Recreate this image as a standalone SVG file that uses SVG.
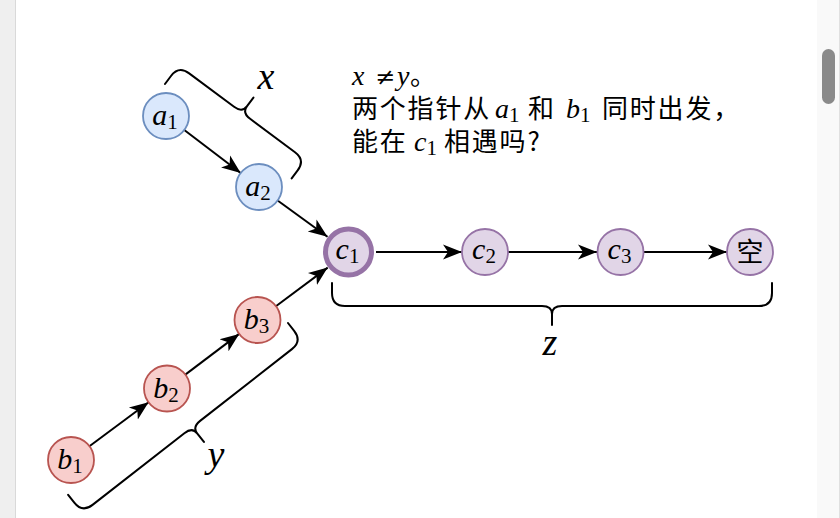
<svg xmlns="http://www.w3.org/2000/svg" width="840" height="518" viewBox="0 0 840 518">
<style>
.bg{fill:#ffffff}
.nb{fill:#dae8fc;stroke:#6c8ebf;stroke-width:1.8}
.nr{fill:#f8cecc;stroke:#b85450;stroke-width:1.8}
.np{fill:#e1d5e7;stroke:#9673a6;stroke-width:1.8}
.npk{fill:#e1d5e7;stroke:#9673a6;stroke-width:5}
.edge{fill:none;stroke:#000000;stroke-width:2}
.brace{fill:none;stroke:#000000;stroke-width:2;stroke-linecap:round;stroke-linejoin:round}
.mi{font-family:"Liberation Serif","DejaVu Serif",serif;font-style:italic;fill:#000}
.mn{font-family:"Liberation Serif","DejaVu Serif",serif;font-style:normal;fill:#000}
.op{font-family:"DejaVu Serif",serif;font-style:normal;fill:#000}
.cjk{font-family:"Noto Sans CJK SC","Noto Sans",sans-serif;fill:#000}
.lbl{font-size:30px}
.sub{font-size:21px}
.big{font-size:38px}
.note{font-size:26px;letter-spacing:1.8px}
.nm{font-size:28px}
</style>
<defs>
<marker id="arr" markerUnits="userSpaceOnUse" markerWidth="20" markerHeight="18" viewBox="0 0 20 18" refX="19" refY="9" orient="auto">
<path d="M0,1.5 L19,9 L0,16.5 L5,9 Z" fill="#000000"/>
</marker>
</defs>
<rect class="bg" x="0" y="0" width="840" height="518"/>
<g id="frame">
<rect x="0" y="0" width="15" height="518" fill="#efefef"/>
<line x1="15.5" y1="0" x2="15.5" y2="518" stroke="#d9d9d9" stroke-width="1"/>
<rect x="817" y="0" width="23" height="518" fill="#f9f9f9"/>
<line x1="839.5" y1="0" x2="839.5" y2="518" stroke="#e0e0e0" stroke-width="1"/>
<rect x="822" y="49" width="13" height="55" rx="6.5" fill="#8a8a8a"/>
</g>
<g id="connectors">
<line class="edge" x1="184.3" y1="130" x2="240.7" y2="173" marker-end="url(#arr)"/>
<line class="edge" x1="277.6" y1="200.5" x2="327.5" y2="236.7" marker-end="url(#arr)"/>
<line class="edge" x1="89.4" y1="446.3" x2="148.6" y2="402.2" marker-end="url(#arr)"/>
<line class="edge" x1="185.3" y1="374.6" x2="239.2" y2="333.9" marker-end="url(#arr)"/>
<line class="edge" x1="275.9" y1="306.2" x2="327.7" y2="267.6" marker-end="url(#arr)"/>
<line class="edge" x1="376" y1="252" x2="462" y2="252" marker-end="url(#arr)"/>
<line class="edge" x1="508" y1="252" x2="597" y2="252" marker-end="url(#arr)"/>
<line class="edge" x1="644" y1="252" x2="727" y2="252" marker-end="url(#arr)"/>
</g>
<g id="brace-x">
<path class="brace" transform="translate(165,84) rotate(36.7)" d="M0,0 L0,-10 Q0,-23 13,-23 L69,-23 Q79,-23 79,-31 L79,-42 M79,-31 Q79,-23 89,-23 L145,-23 Q158,-23 158,-10 L158,0"/>
<text class="mi big" x="266" y="89" text-anchor="middle">x</text>
</g>
<g id="brace-y">
<path class="brace" transform="translate(288,323) rotate(142)" d="M0,0 L0,-10 Q0,-23 13,-23 L129.5,-23 Q139.5,-23 139.5,-31 L139.5,-42 M139.5,-31 Q139.5,-23 149.5,-23 L266,-23 Q279,-23 279,-10 L279,0"/>
<text class="mi big" x="216" y="467" text-anchor="middle">y</text>
</g>
<g id="brace-z">
<path class="brace" d="M332,283 L332,293 Q332,306 345,306 L542,306 Q552,306 552,314 L552,325 M552,314 Q552,306 562,306 L759,306 Q772,306 772,293 L772,283"/>
<text class="mi big" x="550" y="355" text-anchor="middle">z</text>
</g>
<g id="node-a1">
<circle class="nb" cx="166" cy="116" r="23"/>
<text class="mi lbl" x="165" y="125" text-anchor="middle">a<tspan class="mn sub" dy="4">1</tspan></text>
</g>
<g id="node-a2">
<circle class="nb" cx="259" cy="187" r="23"/>
<text class="mi lbl" x="258" y="196" text-anchor="middle">a<tspan class="mn sub" dy="4">2</tspan></text>
</g>
<g id="node-b1">
<circle class="nr" cx="71" cy="460" r="23"/>
<text class="mi lbl" x="70" y="469" text-anchor="middle">b<tspan class="mn sub" dy="4">1</tspan></text>
</g>
<g id="node-b2">
<circle class="nr" cx="167" cy="388.5" r="23"/>
<text class="mi lbl" x="166" y="397.5" text-anchor="middle">b<tspan class="mn sub" dy="4">2</tspan></text>
</g>
<g id="node-b3">
<circle class="nr" cx="257.5" cy="320" r="23"/>
<text class="mi lbl" x="256.5" y="329" text-anchor="middle">b<tspan class="mn sub" dy="4">3</tspan></text>
</g>
<g id="node-c1">
<circle class="npk" cx="348.5" cy="252" r="23"/>
<text class="mi lbl" x="347.5" y="259" text-anchor="middle">c<tspan class="mn sub" dy="4">1</tspan></text>
</g>
<g id="node-c2">
<circle class="np" cx="485" cy="252" r="23"/>
<text class="mi lbl" x="484" y="259" text-anchor="middle">c<tspan class="mn sub" dy="4">2</tspan></text>
</g>
<g id="node-c3">
<circle class="np" cx="620.5" cy="252" r="23"/>
<text class="mi lbl" x="619.5" y="259" text-anchor="middle">c<tspan class="mn sub" dy="4">3</tspan></text>
</g>
<g id="node-null">
<circle class="np" cx="750" cy="252" r="23"/>
<text class="cjk" font-size="27" x="750" y="261.5" text-anchor="middle">空</text>
</g>
<g id="note">
<text class="mi nm" x="352" y="85">x</text>
<text class="op" font-size="24" x="375" y="85">≠</text>
<text class="mi nm" x="397" y="85">y</text>
<text class="cjk note" x="410" y="85">。</text>
<text class="cjk note" x="352" y="118">两个指针从</text>
<text class="mi nm" x="495" y="118">a<tspan class="mn sub" dy="4">1</tspan></text>
<text class="cjk note" x="528" y="118">和</text>
<text class="mi nm" x="566" y="118">b<tspan class="mn sub" dy="4">1</tspan></text>
<text class="cjk note" x="602" y="118">同时出发，</text>
<text class="cjk note" x="352" y="151">能在</text>
<text class="mi nm" x="414" y="151">c<tspan class="mn sub" dy="4">1</tspan></text>
<text class="cjk note" x="444" y="151">相遇吗?</text>
</g>
</svg>
